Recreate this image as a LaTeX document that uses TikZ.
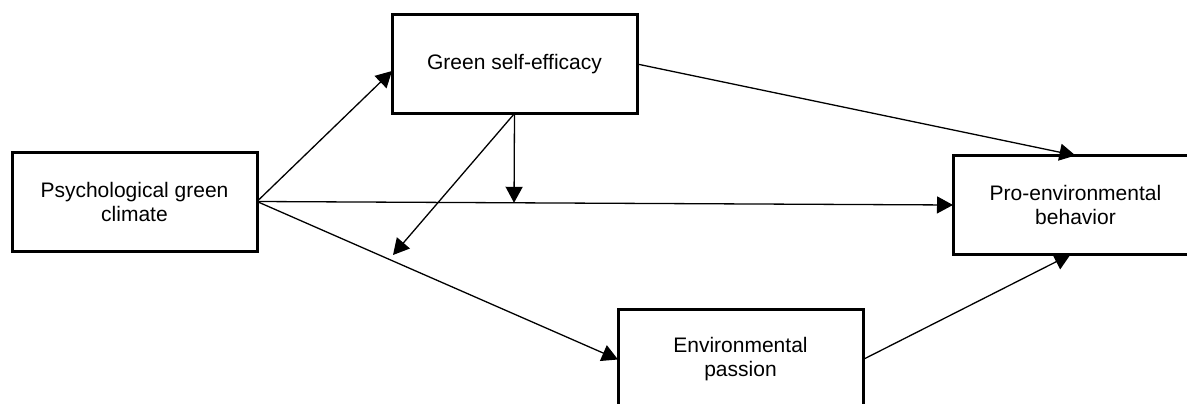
\documentclass[tikz,border=0pt]{standalone}
\usepackage{fontspec}
\setmainfont{Liberation Sans}
\usetikzlibrary{arrows.meta,calc}
\begin{document}
\begin{tikzpicture}[x=1pt,y=-1pt,
  box/.style={draw,line width=3pt,minimum width=245pt,minimum height=99pt,inner sep=0pt,outer sep=0pt,align=center,font=\fontsize{21}{24}\selectfont},
  conn/.style={line width=1.3pt,-{Triangle[length=16pt,width=17pt]}}]
\useasboundingbox (0,0) rectangle (1187,404);
\node[box] (psych) at (134.5,201.5) {Psychological green\\climate};
\node[box] (gse) at (514.5,64) {Green self-efficacy};
\node[box] (pep) at (1075.5,205) {Pro-environmental\\behavior};
\node[box,minimum height=100pt] (ep) at (740.5,359.5) {Environmental\\passion};
\coordinate (m1) at ($(psych.east)!(gse.south)!(pep.west)$);
\coordinate (m2) at (393,255);
\draw[conn] (psych.east) -- ($(gse.west)+(0,7)$);
\draw[conn] (psych.east) -- (pep.west);
\draw[conn] (psych.east) -- (ep.west);
\draw[conn] (gse.east) -- (pep.north);
\draw[conn] (ep.east) -- ($(pep.south)+(-5,0)$);
\draw[conn] (gse.south) -- (m1);
\draw[conn] (gse.south) -- (m2);
\end{tikzpicture}
\end{document}
